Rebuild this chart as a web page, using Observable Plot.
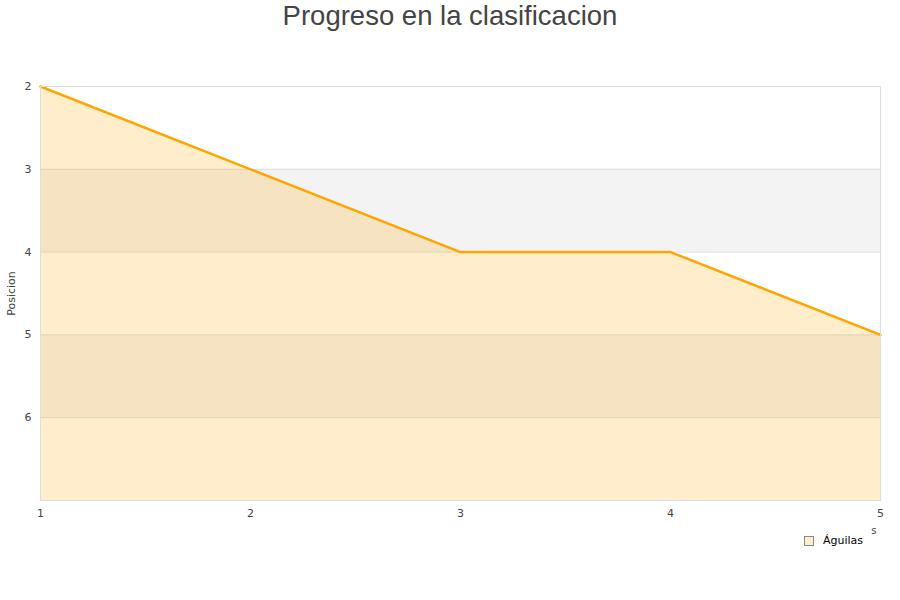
<!DOCTYPE html>
<html>
<head>
<meta charset="utf-8">
<script src="https://cdn.jsdelivr.net/npm/d3@7"></script>
<script src="https://cdn.jsdelivr.net/npm/@observablehq/plot@0.6"></script>
<style>
  body { margin: 0; background: #fff; width: 900px; height: 600px; position: relative; overflow: hidden; }
  #title { position: absolute; left: 0; top: 0; width: 900px; text-align: center; font-family: "Liberation Sans", Arial, sans-serif; font-size: 27.5px; color: #444; line-height: 32px; }
  #chart { position: absolute; left: 0; top: 36px; }
  #legend { position: absolute; left: 804px; top: 534px; font-family: "DejaVu Sans", sans-serif; font-size: 11px; color: #000; display: flex; align-items: center; }
  #legend .sw { width: 8px; height: 8px; background: #ffedcc; border: 1px solid #888; margin-right: 9px; }
</style>
</head>
<body>
<div id="title">Progreso en la clasificacion</div>
<div id="chart"></div>
<div id="legend"><span class="sw"></span><span>Águilas</span></div>
<script>
const jornadas = [1, 2, 3, 4, 5];
const posiciones = [2, 3, 4, 4, 5];
const serieNombre = "Águilas";
const yTicks = [2, 3, 4, 5, 6];
const bandas = [3, 5];
const grid = [3, 4, 5, 6];

const data = jornadas.map((j, i) => ({ jornada: j, pos: posiciones[i] }));
const bands = bandas.map(b => ({ y1: b, y2: b + 1 }));
const fmt = d3.format("d");

const chart = Plot.plot({
  width: 900,
  height: 564,
  marginTop: 50,
  marginBottom: 100,
  marginLeft: 40,
  marginRight: 20,
  style: { fontFamily: "DejaVu Sans, sans-serif", fontSize: "11px", color: "#444", background: "transparent" },
  x: { domain: [1, 5] },
  y: { domain: [2, 7], reverse: true },
  marks: [
    Plot.rect(bands, { y1: "y1", y2: "y2", fill: "#f3f3f3" }),
    Plot.ruleY(grid, { stroke: "#dddddd", strokeWidth: 1 }),
    Plot.areaY(data, { x: "jornada", y1: 7, y2: "pos", fill: "#ffa500", fillOpacity: 0.2 }),
    Plot.line(data, { x: "jornada", y: "pos", stroke: "#ffa500", strokeWidth: 2.5 }),
    Plot.frame({ stroke: "#dddddd" }),
    Plot.axisX({ ticks: jornadas, tickFormat: fmt, tickSize: 0, tickPadding: 9, label: null, fill: "#444" }),
    Plot.axisY({ ticks: yTicks, tickFormat: fmt, tickSize: 0, tickPadding: 9, label: null, fill: "#444" }),
    Plot.text(["Posicion"], { frameAnchor: "left", textAnchor: "middle", rotate: -90, dx: -29, fill: "#444", fontSize: 11 }),
    Plot.text(["s"], { frameAnchor: "bottom-right", dx: -4, dy: 33, fill: "#444", fontSize: 10 })
  ]
});
document.getElementById("chart").appendChild(chart);
</script>
</body>
</html>
